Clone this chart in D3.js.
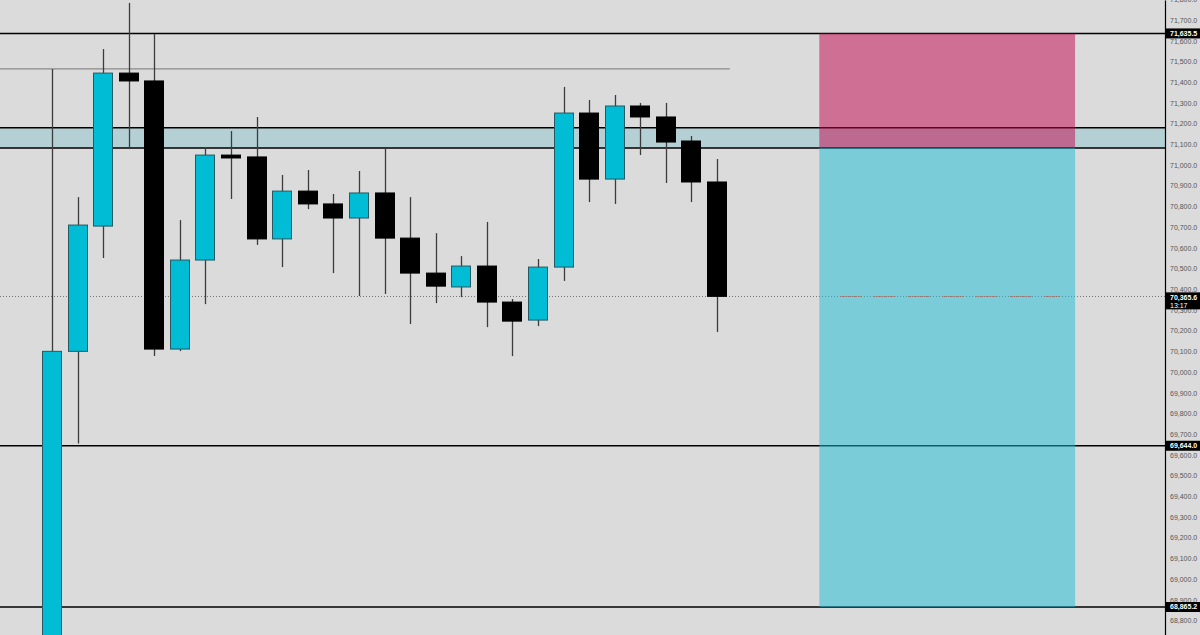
<!DOCTYPE html>
<html>
<head>
<meta charset="utf-8">
<script src="https://cdn.jsdelivr.net/npm/d3@7"></script>
<style>
  html, body { margin: 0; padding: 0; background: #dbdbdb; }
  svg { display: block; }
</style>
</head>
<body>
<div class="svg-container"></div>
<script>
"use strict";

// candles (index 0 = leftmost)
var opens  = [68300, 70100, 70705, 71444, 71406, 70111, 70541, 71048, 71039, 70643, 70874, 70812, 70744, 70865,
              70647, 70478, 70411, 70512, 70338, 70251, 70507, 71251, 70932, 71285, 71232, 71116, 70918];
var highs  = [71464, 70845, 71560, 71783, 71633, 70734, 71087, 71164, 71232, 70952, 70976, 70860, 70971, 71082,
              70845, 70671, 70560, 70725, 70353, 70546, 71377, 71314, 71338, 71300, 71300, 71140, 71029];
var lows   = [68200, 69655, 70551, 71077, 70077, 70101, 70328, 70836, 70614, 70507, 70787, 70478, 70367, 70377,
              70232, 70333, 70362, 70217, 70077, 70222, 70440, 70821, 70812, 71048, 70913, 70821, 70193];
var closes = [70100, 70710, 71444, 71406, 70111, 70541, 71048, 71034, 70643, 70874, 70812, 70744, 70865, 70647,
              70478, 70415, 70512, 70338, 70246, 70507, 71251, 70932, 71285, 71232, 71111, 70918, 70365.6];

// horizontal levels
var levels = [71635.5, 69644.0, 68865.2];
var zone = [71082, 71180];          // shaded band
var ray = { price: 71464, from: -2.1, to: 26.5 };
var lastPrice = 70365.6;
var countdown = "13:17";

// short position tool
var position = { from: 30, to: 40, entry: 71082, stop: 71635.5, target: 68865.2 };

// price axis ticks
var tickValues = d3.range(68800, 71801, 100);

var width = 1200, height = 635;
var axisX = 1165;

var svg = d3.select('.svg-container').append('svg')
    .attr('width', width).attr('height', height);

var x = d3.scaleLinear().domain([0, 26]).range([52, 717]);
var y = d3.scaleLinear().domain([68730, 71797]).range([height, 0]);
var bodyW = 20;

svg.append('rect').attr('width', width).attr('height', height).attr('fill', '#dbdbdb');

var plot = svg.append('g').attr('class', 'plot');

// band
plot.append('rect')
    .attr('x', 0).attr('width', axisX)
    .attr('y', y(zone[1])).attr('height', y(zone[0]) - y(zone[1]))
    .attr('fill', '#b4d0d4');
plot.selectAll('line.zone').data(zone).enter().append('line')
    .attr('x1', 0).attr('x2', axisX)
    .attr('y1', function(d){ return y(d); }).attr('y2', function(d){ return y(d); })
    .attr('stroke', '#000').attr('stroke-width', 1.5);

// levels
plot.selectAll('line.level').data(levels).enter().append('line')
    .attr('x1', 0).attr('x2', axisX)
    .attr('y1', function(d){ return y(d); }).attr('y2', function(d){ return y(d); })
    .attr('stroke', '#000').attr('stroke-width', 1.5);

// ray
plot.append('line')
    .attr('x1', x(ray.from)).attr('x2', x(ray.to))
    .attr('y1', y(ray.price)).attr('y2', y(ray.price))
    .attr('stroke', '#8a8a8a').attr('stroke-width', 1.2);

// last price dotted line
var lpY = Math.round(y(lastPrice)) + 0.5;
plot.append('line')
    .attr('x1', 0).attr('x2', axisX)
    .attr('y1', lpY).attr('y2', lpY)
    .attr('stroke', '#777').attr('stroke-width', 1).attr('stroke-dasharray', '1,2');

// candles
var idx = d3.range(opens.length);
var candles = plot.append('g').selectAll('g').data(idx).enter().append('g');

candles.append('line')
    .attr('x1', function(i){ return Math.round(x(i)) + 0.5; })
    .attr('x2', function(i){ return Math.round(x(i)) + 0.5; })
    .attr('y1', function(i){ return y(highs[i]); })
    .attr('y2', function(i){ return y(lows[i]); })
    .attr('stroke', '#3c3c3c').attr('stroke-width', 1.3);

candles.append('rect')
    .attr('x', function(i){ return Math.round(x(i) - bodyW / 2) + 0.5; })
    .attr('width', bodyW - 1)
    .attr('y', function(i){ return y(Math.max(opens[i], closes[i])); })
    .attr('height', function(i){ return Math.max(2, Math.abs(y(opens[i]) - y(closes[i]))); })
    .attr('fill', function(i){ return closes[i] >= opens[i] ? '#00bcd4' : '#000'; })
    .attr('stroke', function(i){ return closes[i] >= opens[i] ? '#245a63' : '#000'; })
    .attr('stroke-width', 1);

// position box
var px0 = x(position.from), px1 = x(position.to);
plot.append('rect')
    .attr('x', px0).attr('width', px1 - px0)
    .attr('y', y(position.stop)).attr('height', y(position.entry) - y(position.stop))
    .attr('fill', 'rgb(195,3,75)').attr('fill-opacity', 0.5);
plot.append('rect')
    .attr('x', px0).attr('width', px1 - px0)
    .attr('y', y(position.entry)).attr('height', y(position.target) - y(position.entry))
    .attr('fill', 'rgb(23,189,213)').attr('fill-opacity', 0.5);

// dotted dashes of the price line inside the box
var dots = d3.range(10).map(function(){ return '1,1'; }).join(',') + ',1,13';
plot.append('line')
    .attr('x1', px0 + 21).attr('x2', px1 - 16)
    .attr('y1', lpY).attr('y2', lpY)
    .attr('stroke', '#a85f5a').attr('stroke-width', 1).attr('stroke-dasharray', dots);

// price axis
var fmt = d3.format(',.1f');
var axis = svg.append('g')
    .attr('transform', 'translate(' + axisX + ',0)')
    .call(d3.axisRight(y).tickValues(tickValues).tickSize(0).tickPadding(5).tickFormat(fmt));
axis.select('.domain').attr('stroke', '#000').attr('stroke-width', 1.2);
axis.selectAll('text')
    .attr('fill', '#555')
    .style('font-family', '"Liberation Sans", Arial, sans-serif')
    .style('font-size', '7px');

// highlighted price labels
var boxes = svg.append('g').selectAll('g').data(levels).enter().append('g')
    .attr('transform', function(d){ return 'translate(' + axisX + ',' + y(d) + ')'; });
boxes.append('rect')
    .attr('x', 0.5).attr('y', -5).attr('width', width - axisX).attr('height', 10)
    .attr('fill', '#000');
boxes.append('text')
    .attr('x', 5).attr('dy', '0.33em')
    .attr('fill', '#fff')
    .style('font-family', '"Liberation Sans", Arial, sans-serif')
    .style('font-size', '7px').style('font-weight', 'bold')
    .text(function(d){ return fmt(d); });

var lp = svg.append('g').attr('transform', 'translate(' + axisX + ',' + y(lastPrice) + ')');
lp.append('rect').attr('x', 0.5).attr('y', -4).attr('width', width - axisX).attr('height', 17).attr('fill', '#000');
lp.append('text').attr('x', 5).attr('y', 1).attr('dy', '0.33em')
    .attr('fill', '#fff')
    .style('font-family', '"Liberation Sans", Arial, sans-serif')
    .style('font-size', '7px').style('font-weight', 'bold')
    .text(fmt(lastPrice));
lp.append('text').attr('x', 5).attr('y', 9).attr('dy', '0.33em')
    .attr('fill', '#fff')
    .style('font-family', '"Liberation Sans", Arial, sans-serif')
    .style('font-size', '7px')
    .text(countdown);
</script>
</body>
</html>
